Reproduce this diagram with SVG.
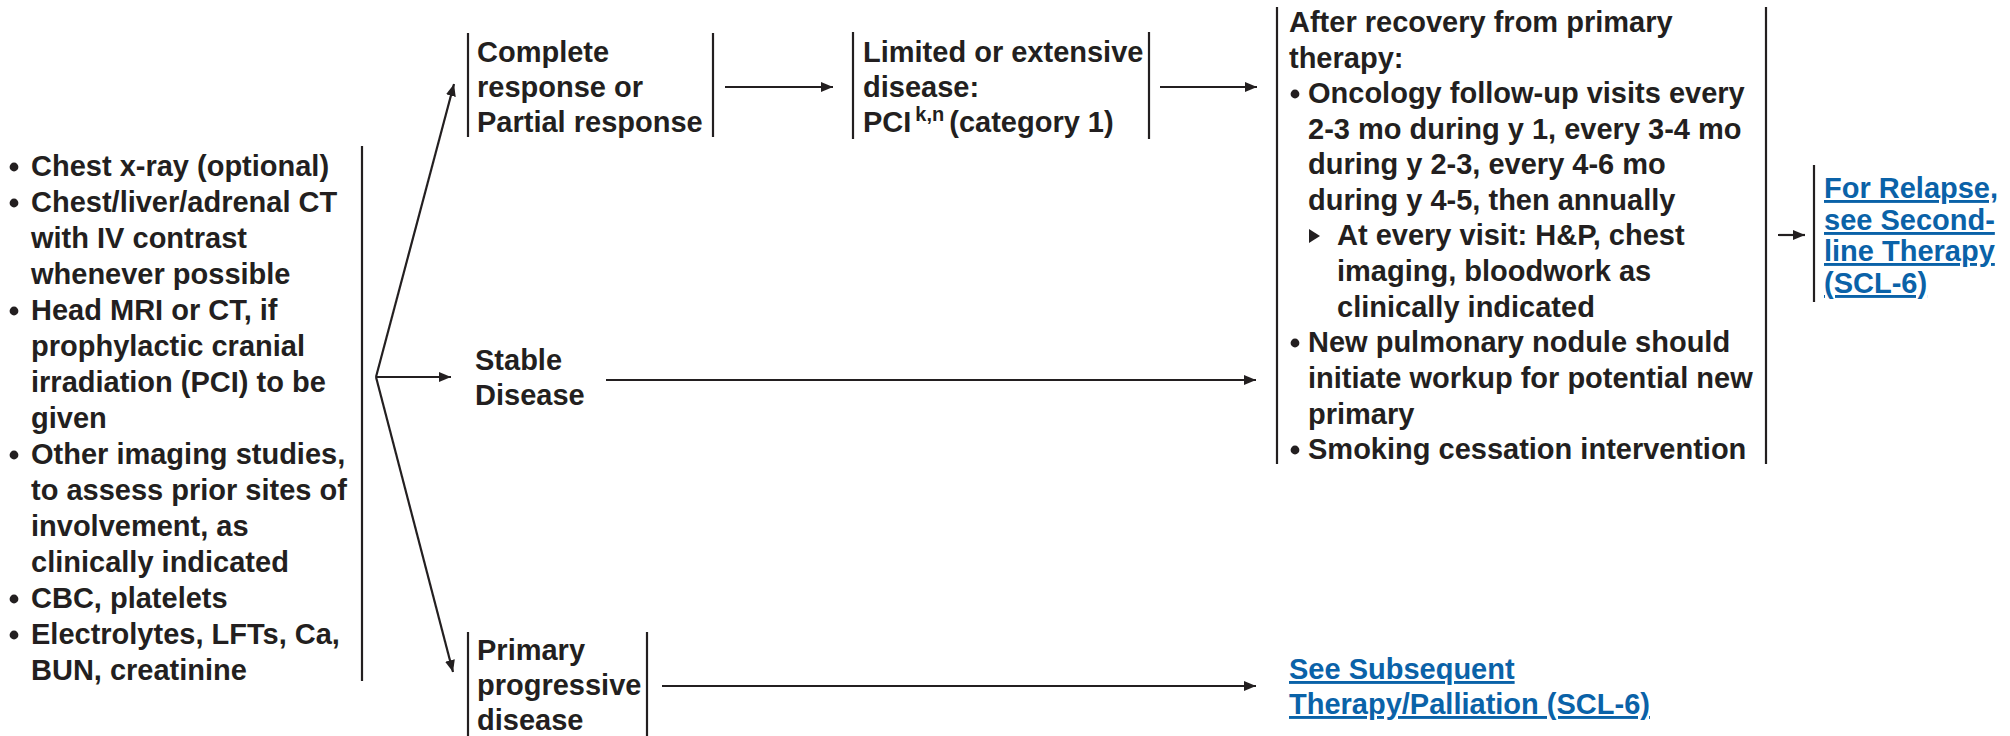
<svg xmlns="http://www.w3.org/2000/svg" width="2010" height="736" viewBox="0 0 2010 736">
<style>
text{font-family:"Liberation Sans",Arial,Helvetica,sans-serif;font-weight:bold;font-size:29px;fill:#231f20}
.link{fill:#0a62a8;text-decoration:underline}
.bar{stroke:#231f20;stroke-width:2.2;fill:none}
.conn{stroke:#231f20;stroke-width:2.2;fill:none;marker-end:url(#arrow)}
.dot{fill:#231f20}
.sup{font-size:20px}
</style>
<defs>
<marker id="arrow" markerUnits="userSpaceOnUse" markerWidth="14" markerHeight="12" refX="12" refY="5" orient="auto">
<path d="M0,0 L12,5 L0,10 Z" fill="#231f20"/>
</marker>
</defs>
<rect width="2010" height="736" fill="#ffffff"/>

<g id="workup">
<circle class="dot" cx="14" cy="167" r="4.4"/>
<circle class="dot" cx="14" cy="203" r="4.4"/>
<circle class="dot" cx="14" cy="311" r="4.4"/>
<circle class="dot" cx="14" cy="455" r="4.4"/>
<circle class="dot" cx="14" cy="599" r="4.4"/>
<circle class="dot" cx="14" cy="635" r="4.4"/>
<text x="31" y="176">Chest x-ray (optional)</text>
<text x="31" y="212">Chest/liver/adrenal CT</text>
<text x="31" y="248">with IV contrast</text>
<text x="31" y="284">whenever possible</text>
<text x="31" y="320">Head MRI or CT, if</text>
<text x="31" y="356">prophylactic cranial</text>
<text x="31" y="392">irradiation (PCI) to be</text>
<text x="31" y="428">given</text>
<text x="31" y="464">Other imaging studies,</text>
<text x="31" y="500">to assess prior sites of</text>
<text x="31" y="536">involvement, as</text>
<text x="31" y="572">clinically indicated</text>
<text x="31" y="608">CBC, platelets</text>
<text x="31" y="644">Electrolytes, LFTs, Ca,</text>
<text x="31" y="680">BUN, creatinine</text>
<line class="bar" x1="362" y1="146" x2="362" y2="681"/>
</g>

<g id="response">
<line class="bar" x1="468" y1="33" x2="468" y2="137"/>
<text x="477" y="62">Complete</text>
<text x="477" y="97">response or</text>
<text x="477" y="132">Partial response</text>
<line class="bar" x1="713" y1="33" x2="713" y2="137"/>
</g>

<g id="pci">
<line class="bar" x1="853" y1="32" x2="853" y2="139"/>
<text x="863" y="62">Limited or extensive</text>
<text x="863" y="97">disease:</text>
<text x="863" y="132">PCI<tspan class="sup" dx="4" dy="-11">k,n</tspan><tspan dx="5" dy="11">(category 1)</tspan></text>
<line class="bar" x1="1149" y1="32" x2="1149" y2="139"/>
</g>

<g id="stable">
<text x="475" y="370">Stable</text>
<text x="475" y="405">Disease</text>
</g>

<g id="progressive">
<line class="bar" x1="468" y1="632" x2="468" y2="736"/>
<text x="477" y="660">Primary</text>
<text x="477" y="695">progressive</text>
<text x="477" y="730">disease</text>
<line class="bar" x1="647" y1="632" x2="647" y2="736"/>
</g>

<g id="followup">
<line class="bar" x1="1277" y1="7" x2="1277" y2="464"/>
<text x="1289" y="32">After recovery from primary</text>
<text x="1289" y="68">therapy:</text>
<circle class="dot" cx="1295" cy="94" r="4.4"/>
<text x="1308" y="103">Oncology follow-up visits every</text>
<text x="1308" y="139">2-3 mo during y 1, every 3-4 mo</text>
<text x="1308" y="174">during y 2-3, every 4-6 mo</text>
<text x="1308" y="210">during y 4-5, then annually</text>
<path class="dot" d="M1309,229 L1320,236 L1309,243 Z"/>
<text x="1337" y="245">At every visit: H&amp;P, chest</text>
<text x="1337" y="281">imaging, bloodwork as</text>
<text x="1337" y="317">clinically indicated</text>
<circle class="dot" cx="1295" cy="343" r="4.4"/>
<text x="1308" y="352">New pulmonary nodule should</text>
<text x="1308" y="388">initiate workup for potential new</text>
<text x="1308" y="424">primary</text>
<circle class="dot" cx="1295" cy="450" r="4.4"/>
<text x="1308" y="459">Smoking cessation intervention</text>
<line class="bar" x1="1766" y1="7" x2="1766" y2="464"/>
</g>

<g id="relapse">
<line class="bar" x1="1814" y1="165" x2="1814" y2="302"/>
<text class="link" x="1824" y="198">For Relapse,</text>
<text class="link" x="1824" y="230">see Second-</text>
<text class="link" x="1824" y="261">line Therapy</text>
<text class="link" x="1824" y="293">(SCL-6)</text>
</g>

<g id="subsequent">
<text class="link" x="1289" y="679">See Subsequent</text>
<text class="link" x="1289" y="714">Therapy/Palliation (SCL-6)</text>
</g>

<g id="connectors">
<line class="conn" x1="376" y1="377" x2="454" y2="84"/>
<line class="conn" x1="376" y1="377" x2="451" y2="377"/>
<line class="conn" x1="376" y1="377" x2="453" y2="672"/>
<line class="conn" x1="725" y1="87" x2="833" y2="87"/>
<line class="conn" x1="1160" y1="87" x2="1257" y2="87"/>
<line class="conn" x1="606" y1="380" x2="1256" y2="380"/>
<line class="conn" x1="662" y1="686" x2="1256" y2="686"/>
<line class="conn" x1="1778" y1="235" x2="1805" y2="235"/>
</g>
</svg>
